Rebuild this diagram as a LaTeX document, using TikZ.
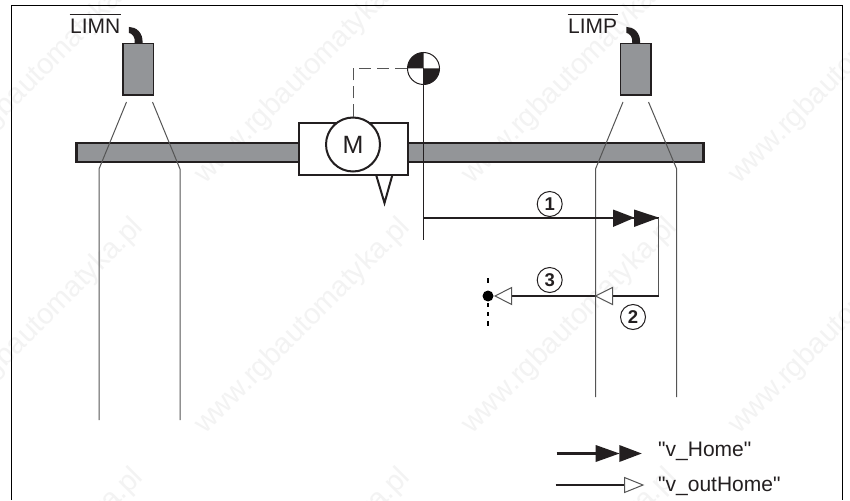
\documentclass[tikz,border=0pt]{standalone}
\usepackage{fontspec}
\setmainfont{Liberation Sans}
\newfontfamily\plainsans{Liberation Sans}
\definecolor{ink}{HTML}{231F20}
\definecolor{railgrey}{HTML}{939598}
\definecolor{beamgrey}{HTML}{555555}
\definecolor{stampgrey}{HTML}{F3F3F3}
\tikzset{
  frameline/.style={draw=black,line width=1.3pt},
  railbox/.style={draw=ink,fill=railgrey,line width=2.2pt,rectangle,inner sep=0pt,minimum width=627pt,minimum height=19pt},
  sensorbox/.style={draw=ink,fill=railgrey,line width=1.2pt,rectangle,inner sep=0pt,minimum width=30.5pt,minimum height=51.5pt},
  motorbox/.style={draw=ink,fill=white,line width=2pt,rectangle,inner sep=0pt,minimum width=108.5pt,minimum height=52pt},
  motorcircle/.style={draw=ink,fill=white,line width=2pt,circle,inner sep=0pt,minimum size=54pt,font=\fontsize{25}{25}\selectfont,text=ink},
  beamline/.style={draw=beamgrey,line width=1pt},
  refline/.style={draw=ink,line width=1pt},
  feedline/.style={draw=beamgrey,line width=1pt,dash pattern=on 12pt off 6pt},
  runline/.style={draw=ink,line width=2.2pt},
  linklinegrey/.style={draw=beamgrey,line width=1pt},
  blackhead/.style={fill=ink,draw=none},
  whitehead/.style={fill=white,draw=beamgrey,line width=1pt},
  stepmark/.style={draw=ink,fill=white,line width=1pt,circle,inner sep=0pt,minimum size=25pt,font=\bfseries\fontsize{18.5}{18.5}\selectfont,text=ink},
  labeltext/.style={font=\plainsans\fontsize{21}{21}\selectfont,text=ink,inner sep=0pt,anchor=base west},
  stamp/.style={font=\fontsize{29}{29}\selectfont,text=stampgrey,inner sep=0pt,anchor=base west,rotate=45},
  endmark/.style={draw=black,line width=2.5pt},
}
\begin{document}
\begin{tikzpicture}[x=1pt,y=-1pt]
\useasboundingbox (0,0) rectangle (850,500);
\fill[white] (0,0) rectangle (850,500);

% repeated stamp
\foreach \sx in {-62,205,472,739}
  \foreach \sy in {185,435,685}
    \node[stamp] at (\sx,\sy) {www.rgbautomatyka.pl};

% frame
\coordinate (fa) at (11.5,500);
\coordinate (fb) at (11.5,5.5);
\coordinate (fc) at (842.5,5.5);
\coordinate (fd) at (842.5,500);
\draw[frameline] (fa) -- (fb) -- (fc) -- (fd);

% rail
\node[railbox] (rail) at (390,152.3) {};

% sensors
\node[sensorbox] (senL) at (138.25,69.25) {};
\node[sensorbox] (senR) at (635.75,69.25) {};
\foreach \s in {senL,senR} {
  \begin{scope}[shift={(\s.north)}]
    \fill[ink] (-9.3,-16) .. controls (-2,-16) and (5,-10) .. (4.3,0)
      -- (-3.5,0) .. controls (-3,-6) and (-6,-9.5) .. (-9.3,-10) -- cycle;
  \end{scope}
}

% sensor labels
\node[labeltext] (limn) at (70,33.5) {LIMN};
\node[labeltext] (limp) at (568,33.5) {LIMP};
\draw[draw=ink,line width=0.9pt] ([xshift=-0.5pt,yshift=4pt]limn.north west) -- ([xshift=0.5pt,yshift=4pt]limn.north east);
\draw[draw=ink,line width=0.9pt] ([xshift=-0.5pt,yshift=4pt]limp.north west) -- ([xshift=0.5pt,yshift=4pt]limp.north east);

% sensor beams
\coordinate (bLa1) at (126.5,102); \coordinate (bLa2) at (99,169); \coordinate (bLa3) at (99,420);
\coordinate (bLb1) at (152.5,102); \coordinate (bLb2) at (180,169); \coordinate (bLb3) at (180,420);
\coordinate (bRa1) at (623,102); \coordinate (bRa2) at (595.5,169); \coordinate (bRa3) at (595.5,397);
\coordinate (bRb1) at (648.5,102); \coordinate (bRb2) at (676.7,169); \coordinate (bRb3) at (676.7,397);
\draw[beamline] (bLa1) -- (bLa2) -- (bLa3);
\draw[beamline] (bLb1) -- (bLb2) -- (bLb3);
\draw[beamline] (bRa1) -- (bRa2) -- (bRa3);
\draw[beamline] (bRb1) -- (bRb2) -- (bRb3);

% motor carriage
\coordinate (ta) at (376,174.5); \coordinate (tb) at (392.5,174.5); \coordinate (tc) at (384.5,203);
\draw[draw=ink,fill=white,line width=2pt,line join=miter] (ta) -- (tb) -- (tc) -- cycle;
\node[motorbox] (motor) at (353.25,148.5) {};
\node[motorcircle] (mcirc) at (353,144.5) {M};

% reference point
\coordinate (enc) at (423.5,68.5);
\draw[feedline] (mcirc.north) |- ([xshift=-16pt]enc);
\fill[white] (enc) circle[radius=16];
\fill[ink] (enc) -- +(-16,0) arc[start angle=180,end angle=270,radius=16] -- cycle;
\fill[ink] (enc) -- +(16,0) arc[start angle=0,end angle=90,radius=16] -- cycle;
\draw[refline] (enc) circle[radius=16];
\coordinate (refend) at (423.5,240);
\draw[refline] (enc) -- (refend);

% run path
\coordinate (p1) at (423.5,217.7);
\coordinate (p2) at (658.5,217.7);
\coordinate (p3) at (658.5,296);
\coordinate (p4) at (508,296);
\draw[runline] (p1) -- (p2);
\draw[linklinegrey] (p2) -- (p3);
\draw[runline,line cap=butt] (p3) -- (p4);
\fill[blackhead] (613,209.5) -- (634.5,217.7) -- (613,227) -- cycle;
\fill[blackhead] (634,209.5) -- (659,217.7) -- (634,227) -- cycle;
\draw[whitehead] (612.5,287.5) -- (595.5,296) -- (612.5,304.5) -- cycle;
\draw[whitehead] (511.7,287.5) -- (495,296) -- (511.7,304.5) -- cycle;

% end mark
\coordinate (e0) at (488,296);
\fill[black] (e0) circle[radius=5.5];
\foreach \a/\b in {278/283,303/307,312/316,321/326}
  \draw[endmark] (488,\a) -- (488,\b);

% step markers
\node[stepmark] (s1) at (549.7,204) {1};
\node[stepmark] (s3) at (549.7,280) {3};
\node[stepmark] (s2) at (633,317) {2};

% legend
\coordinate (l1a) at (556.5,453.5); \coordinate (l1b) at (610,453.5);
\draw[runline] (l1a) -- (l1b);
\fill[blackhead] (595.7,445) -- (619.5,453.5) -- (595.7,462) -- cycle;
\fill[blackhead] (619.3,445) -- (641.7,453.5) -- (619.3,462) -- cycle;
\coordinate (l2a) at (555.5,485); \coordinate (l2b) at (624.5,485);
\draw[runline] (l2a) -- (l2b);
\draw[whitehead] (624.5,477.5) -- (643,485) -- (624.5,492.5) -- cycle;
\node[labeltext] (lt1) at (658,456.5) {"v\_Home"};
\node[labeltext] (lt2) at (658,491) {"v\_outHome"};
\end{tikzpicture}
\end{document}
